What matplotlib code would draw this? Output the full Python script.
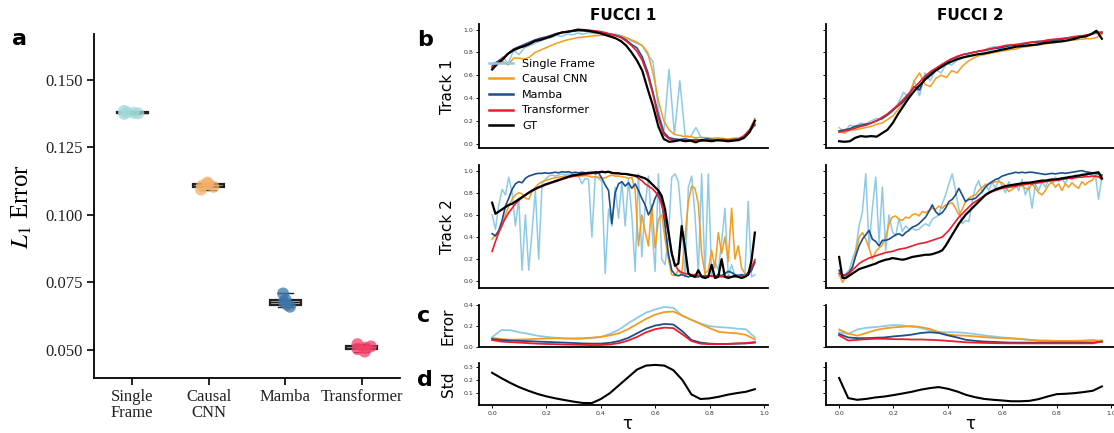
import numpy as np
import matplotlib

matplotlib.use("Agg")

import matplotlib.pyplot as plt
from matplotlib.ticker import FormatStrFormatter

# ---------------------------------------------------------------- data
METHODS = ["Single Frame", "Causal CNN", "Mamba", "Transformer", "GT"]
LINE_COLORS = ["#8ecae6", "#f39c1f", "#1b4f8a", "#ee1c2e", "black"]
LINE_WIDTHS = [1.1, 1.1, 1.2, 1.2, 1.6]

# panel a: L1 error per run
CATEGORIES = ["Single\nFrame", "Causal\nCNN", "Mamba", "Transformer"]
L1_SINGLE = [0.1385, 0.1380, 0.1376, 0.1378, 0.1374]
L1_CNN = [0.1120, 0.1115, 0.1108, 0.1104, 0.1094]
L1_MAMBA = [0.0709, 0.0686, 0.0678, 0.0668, 0.0660]
L1_TRANSFORMER = [0.0513, 0.0521, 0.0494, 0.0508, 0.0503]
DOT_COLORS = ["#a3d9d9", "#f2b06a", "#3f76a8", "#f7406a"]

# FUCCI 1 / Track 1
F1T1_SINGLE = [0.70, 0.72, 0.76, 0.70, 0.82, 0.78, 0.84, 0.86, 0.88, 0.90,
               0.92, 0.93, 0.95, 0.94, 0.96, 0.955, 0.97, 0.96, 0.975, 0.965,
               0.97, 0.97, 0.965, 0.96, 0.95, 0.93, 0.90, 0.88, 0.86, 0.78,
               0.72, 0.30, 0.10, 0.65, 0.08, 0.55, 0.07, 0.06, 0.14, 0.05,
               0.05, 0.04, 0.045, 0.04, 0.04, 0.045, 0.05, 0.06, 0.12, 0.21]
F1T1_CNN = [0.66, 0.70, 0.72, 0.69, 0.75, 0.75, 0.74, 0.76, 0.80, 0.82,
            0.84, 0.86, 0.88, 0.895, 0.91, 0.92, 0.93, 0.935, 0.94, 0.945,
            0.95, 0.95, 0.95, 0.945, 0.94, 0.93, 0.91, 0.89, 0.86, 0.80,
            0.62, 0.38, 0.20, 0.12, 0.08, 0.07, 0.06, 0.06, 0.05, 0.055,
            0.05, 0.045, 0.05, 0.045, 0.04, 0.045, 0.04, 0.06, 0.12, 0.22]
F1T1_MAMBA = [0.68, 0.72, 0.75, 0.79, 0.83, 0.85, 0.87, 0.89, 0.91, 0.925,
              0.935, 0.95, 0.965, 0.975, 0.98, 0.985, 0.99, 0.99, 0.985, 0.98,
              0.975, 0.97, 0.96, 0.95, 0.935, 0.91, 0.87, 0.84, 0.76, 0.63,
              0.45, 0.25, 0.10, 0.05, 0.04, 0.035, 0.04, 0.03, 0.035, 0.03,
              0.04, 0.035, 0.03, 0.035, 0.03, 0.035, 0.04, 0.06, 0.10, 0.17]
F1T1_TRANSFORMER = [0.67, 0.71, 0.75, 0.79, 0.82, 0.84, 0.86, 0.88, 0.90, 0.915,
                    0.93, 0.945, 0.96, 0.975, 0.985, 0.99, 1.0, 1.0, 0.995, 0.99,
                    0.985, 0.975, 0.96, 0.95, 0.93, 0.90, 0.86, 0.81, 0.73, 0.60,
                    0.43, 0.22, 0.08, 0.04, 0.03, 0.03, 0.03, 0.025, 0.03, 0.02,
                    0.03, 0.03, 0.025, 0.03, 0.03, 0.03, 0.04, 0.07, 0.12, 0.16]
F1T1_GT = [0.65, 0.70, 0.74, 0.79, 0.82, 0.84, 0.855, 0.875, 0.90, 0.91,
           0.925, 0.94, 0.96, 0.975, 0.98, 0.99, 1.0, 0.995, 0.99, 0.98,
           0.97, 0.955, 0.94, 0.925, 0.90, 0.86, 0.80, 0.73, 0.64, 0.48,
           0.33, 0.15, 0.04, 0.015, 0.02, 0.03, 0.02, 0.025, 0.01, 0.03,
           0.025, 0.02, 0.03, 0.025, 0.02, 0.025, 0.03, 0.05, 0.10, 0.20]

# FUCCI 2 / Track 1
F2T1_SINGLE = [0.14, 0.10, 0.16, 0.15, 0.18, 0.17, 0.20, 0.22, 0.21, 0.25,
               0.28, 0.35, 0.45, 0.40, 0.55, 0.42, 0.62, 0.55, 0.65, 0.62,
               0.70, 0.69, 0.73, 0.75, 0.78, 0.80, 0.81, 0.82, 0.84, 0.85,
               0.83, 0.86, 0.87, 0.86, 0.88, 0.88, 0.89, 0.90, 0.895, 0.91,
               0.905, 0.915, 0.92, 0.93, 0.925, 0.94, 0.95, 0.96, 0.975, 0.97]
F2T1_CNN = [0.11, 0.09, 0.12, 0.12, 0.13, 0.14, 0.15, 0.17, 0.18, 0.21,
            0.24, 0.30, 0.36, 0.42, 0.55, 0.62, 0.52, 0.50, 0.57, 0.60,
            0.58, 0.64, 0.62, 0.68, 0.72, 0.75, 0.77, 0.78, 0.79, 0.80,
            0.81, 0.815, 0.825, 0.83, 0.845, 0.85, 0.86, 0.865, 0.87, 0.88,
            0.885, 0.89, 0.90, 0.905, 0.91, 0.915, 0.92, 0.92, 0.93, 0.96]
F2T1_MAMBA = [0.11, 0.12, 0.13, 0.15, 0.16, 0.17, 0.18, 0.20, 0.22, 0.25,
              0.29, 0.33, 0.37, 0.43, 0.50, 0.47, 0.58, 0.62, 0.65, 0.68,
              0.71, 0.74, 0.76, 0.78, 0.79, 0.80, 0.81, 0.815, 0.825, 0.835,
              0.84, 0.85, 0.86, 0.865, 0.87, 0.88, 0.89, 0.89, 0.895, 0.90,
              0.905, 0.91, 0.92, 0.93, 0.935, 0.94, 0.95, 0.96, 0.98, 0.97]
F2T1_TRANSFORMER = [0.10, 0.11, 0.12, 0.135, 0.15, 0.16, 0.18, 0.20, 0.23, 0.26,
                    0.30, 0.34, 0.39, 0.44, 0.49, 0.54, 0.59, 0.63, 0.66, 0.69,
                    0.72, 0.745, 0.765, 0.78, 0.79, 0.80, 0.81, 0.82, 0.83, 0.84,
                    0.85, 0.86, 0.865, 0.87, 0.875, 0.885, 0.89, 0.895, 0.90, 0.91,
                    0.915, 0.92, 0.925, 0.93, 0.94, 0.945, 0.95, 0.96, 0.97, 0.98]
F2T1_GT = [0.02, 0.015, 0.02, 0.05, 0.065, 0.06, 0.065, 0.06, 0.09, 0.12,
           0.18, 0.26, 0.33, 0.40, 0.46, 0.51, 0.56, 0.60, 0.64, 0.67,
           0.70, 0.72, 0.74, 0.755, 0.765, 0.775, 0.785, 0.79, 0.80, 0.81,
           0.82, 0.83, 0.84, 0.85, 0.855, 0.86, 0.865, 0.87, 0.88, 0.885,
           0.89, 0.895, 0.90, 0.91, 0.92, 0.935, 0.94, 0.96, 0.99, 0.92]

# FUCCI 1 / Track 2
F1T2_SINGLE = [0.60, 0.47, 0.69, 0.83, 0.78, 0.94, 0.80, 0.50, 0.75, 0.10,
               0.60, 0.10, 0.45, 0.82, 0.20, 0.88, 0.92, 0.95, 0.96, 0.95,
               0.96, 0.97, 0.96, 0.97, 0.965, 0.97, 0.95, 0.88, 0.93, 0.92,
               0.40, 0.95, 0.93, 0.90, 0.07, 0.65, 0.50, 0.85, 0.57, 0.90,
               0.50, 0.92, 0.60, 0.09, 0.97, 0.22, 0.68, 0.95, 0.50, 0.09,
               0.97, 0.20, 0.15, 0.40, 0.94, 0.97, 0.90, 0.55, 0.04, 0.85,
               0.95, 0.60, 0.07, 0.97, 0.05, 0.97, 0.05, 0.18, 0.10, 0.35,
               0.66, 0.05, 0.15, 0.05, 0.06, 0.05, 0.06, 0.72, 0.04, 0.06]
F1T2_CNN = [0.38, 0.42, 0.45, 0.50, 0.60, 0.68, 0.74, 0.78, 0.80, 0.79,
            0.75, 0.74, 0.81, 0.85, 0.88, 0.90, 0.91, 0.92, 0.93, 0.935,
            0.94, 0.945, 0.95, 0.95, 0.955, 0.95, 0.955, 0.95, 0.955, 0.95,
            0.94, 0.945, 0.94, 0.93, 0.935, 0.95, 0.96, 0.95, 0.95, 0.945,
            0.94, 0.93, 0.94, 0.82, 0.32, 0.60, 0.45, 0.32, 0.69, 0.30,
            0.56, 0.60, 0.38, 0.20, 0.06, 0.05, 0.10, 0.06, 0.40, 0.72,
            0.86, 0.84, 0.70, 0.25, 0.07, 0.10, 0.28, 0.12, 0.44, 0.25,
            0.40, 0.18, 0.66, 0.20, 0.32, 0.12, 0.07, 0.06, 0.10, 0.20]
F1T2_MAMBA = [0.43, 0.41, 0.46, 0.55, 0.68, 0.75, 0.83, 0.88, 0.90, 0.89,
              0.93, 0.95, 0.96, 0.97, 0.975, 0.975, 0.98, 0.975, 0.98, 0.985,
              0.98, 0.99, 0.985, 0.99, 0.98, 0.985, 0.98, 0.985, 0.98, 0.975,
              0.985, 0.97, 0.98, 0.93, 0.87, 0.82, 0.52, 0.80, 0.88, 0.90,
              0.86, 0.89, 0.84, 0.88, 0.82, 0.75, 0.69, 0.60, 0.66, 0.75,
              0.81, 0.72, 0.50, 0.25, 0.10, 0.06, 0.05, 0.06, 0.05, 0.04,
              0.05, 0.04, 0.04, 0.05, 0.04, 0.05, 0.05, 0.04, 0.06, 0.05,
              0.07, 0.09, 0.08, 0.06, 0.05, 0.06, 0.05, 0.06, 0.10, 0.17]
F1T2_TRANSFORMER = [0.27, 0.36, 0.44, 0.51, 0.57, 0.62, 0.66, 0.70, 0.73, 0.755,
                    0.78, 0.80, 0.815, 0.83, 0.845, 0.86, 0.87, 0.88, 0.89, 0.90,
                    0.91, 0.92, 0.93, 0.94, 0.945, 0.95, 0.955, 0.96, 0.965, 0.97,
                    0.975, 0.98, 0.98, 0.985, 0.985, 0.985, 0.98, 0.98, 0.975, 0.97,
                    0.97, 0.965, 0.96, 0.95, 0.93, 0.91, 0.88, 0.86, 0.84, 0.81,
                    0.77, 0.69, 0.57, 0.44, 0.26, 0.15, 0.10, 0.08, 0.07, 0.065,
                    0.06, 0.06, 0.055, 0.05, 0.05, 0.05, 0.045, 0.045, 0.045, 0.04,
                    0.04, 0.045, 0.04, 0.04, 0.045, 0.05, 0.05, 0.08, 0.13, 0.19]
F1T2_GT = [0.71, 0.61, 0.63, 0.65, 0.67, 0.69, 0.70, 0.72, 0.74, 0.76,
           0.78, 0.80, 0.82, 0.835, 0.85, 0.86, 0.875, 0.885, 0.895, 0.905,
           0.915, 0.925, 0.935, 0.945, 0.955, 0.96, 0.965, 0.97, 0.975, 0.98,
           0.98, 0.985, 0.985, 0.99, 0.985, 0.99, 0.98, 0.975, 0.975, 0.97,
           0.97, 0.965, 0.96, 0.955, 0.95, 0.94, 0.93, 0.91, 0.88, 0.85,
           0.82, 0.77, 0.65, 0.45, 0.25, 0.14, 0.16, 0.50, 0.30, 0.07,
           0.05, 0.04, 0.10, 0.04, 0.03, 0.04, 0.15, 0.03, 0.04, 0.20,
           0.04, 0.03, 0.04, 0.05, 0.04, 0.03, 0.04, 0.06, 0.19, 0.44]

# FUCCI 2 / Track 2
F2T2_SINGLE = [0.05, 0.05, 0.07, 0.10, 0.20, 0.29, 0.50, 0.63, 0.97, 0.30,
               0.66, 0.94, 0.35, 0.85, 0.28, 0.60, 0.45, 0.41, 0.57, 0.45,
               0.50, 0.47, 0.48, 0.46, 0.47, 0.50, 0.52, 0.50, 0.56, 0.58,
               0.60, 0.70, 0.78, 0.88, 0.97, 0.82, 0.65, 0.52, 0.55, 0.54,
               0.72, 0.85, 0.91, 0.80, 0.88, 0.82, 0.90, 0.84, 0.92, 0.86,
               0.80, 0.90, 0.85, 0.88, 0.82, 0.92, 0.78, 0.86, 0.66, 0.88,
               0.82, 0.90, 0.85, 0.92, 0.88, 0.94, 0.90, 0.93, 0.88, 0.95,
               0.92, 0.96, 0.94, 0.97, 0.95, 0.97, 0.96, 0.98, 0.74, 0.95]
F2T2_CNN = [0.07, -0.01, 0.04, 0.07, 0.12, 0.26, 0.40, 0.44, 0.38, 0.30,
            0.20, 0.27, 0.30, 0.33, 0.40, 0.52, 0.58, 0.59, 0.56, 0.55,
            0.58, 0.57, 0.60, 0.61, 0.59, 0.63, 0.62, 0.64, 0.66, 0.65,
            0.68, 0.66, 0.69, 0.70, 0.71, 0.66, 0.60, 0.65, 0.72, 0.75,
            0.77, 0.78, 0.82, 0.85, 0.87, 0.88, 0.89, 0.90, 0.90, 0.89,
            0.86, 0.81, 0.83, 0.85, 0.88, 0.86, 0.84, 0.83, 0.88, 0.84,
            0.80, 0.78, 0.82, 0.87, 0.90, 0.85, 0.88, 0.82, 0.88, 0.85,
            0.89, 0.86, 0.84, 0.90, 0.87, 0.90, 0.91, 0.95, 0.94, 0.95]
F2T2_MAMBA = [0.10, 0.04, 0.06, 0.08, 0.13, 0.23, 0.32, 0.38, 0.42, 0.46,
              0.38, 0.36, 0.32, 0.37, 0.37, 0.38, 0.40, 0.42, 0.43, 0.41,
              0.44, 0.46, 0.49, 0.50, 0.52, 0.55, 0.58, 0.63, 0.69, 0.63,
              0.60, 0.62, 0.66, 0.72, 0.74, 0.78, 0.84, 0.78, 0.72, 0.74,
              0.74, 0.75, 0.78, 0.81, 0.85, 0.88, 0.90, 0.92, 0.93, 0.95,
              0.96, 0.97, 0.975, 0.985, 0.98, 0.985, 0.98, 0.985, 0.985, 0.98,
              0.975, 0.97, 0.965, 0.97, 0.975, 0.97, 0.975, 0.98, 0.975, 0.98,
              0.985, 0.99, 0.995, 1.0, 0.99, 0.985, 0.98, 0.975, 0.97, 0.96]
F2T2_TRANSFORMER = [0.07, 0.06, 0.055, 0.07, 0.10, 0.13, 0.16, 0.18, 0.195, 0.21,
                    0.22, 0.23, 0.24, 0.25, 0.26, 0.265, 0.27, 0.28, 0.29, 0.295,
                    0.30, 0.31, 0.32, 0.33, 0.34, 0.345, 0.35, 0.36, 0.37, 0.38,
                    0.39, 0.40, 0.43, 0.46, 0.50, 0.54, 0.58, 0.61, 0.64, 0.67,
                    0.70, 0.72, 0.74, 0.76, 0.78, 0.795, 0.81, 0.82, 0.83, 0.84,
                    0.845, 0.85, 0.855, 0.86, 0.865, 0.87, 0.875, 0.88, 0.88, 0.885,
                    0.89, 0.895, 0.90, 0.905, 0.91, 0.91, 0.915, 0.92, 0.925, 0.93,
                    0.93, 0.935, 0.94, 0.94, 0.945, 0.945, 0.95, 0.95, 0.945, 0.92]
F2T2_GT = [0.22, 0.03, 0.03, 0.05, 0.07, 0.09, 0.11, 0.12, 0.13, 0.14,
           0.15, 0.16, 0.175, 0.185, 0.195, 0.20, 0.21, 0.205, 0.20, 0.195,
           0.20, 0.21, 0.22, 0.225, 0.23, 0.235, 0.24, 0.24, 0.245, 0.255,
           0.265, 0.28, 0.32, 0.37, 0.42, 0.47, 0.52, 0.56, 0.60, 0.63,
           0.66, 0.69, 0.72, 0.75, 0.78, 0.80, 0.815, 0.83, 0.84, 0.85,
           0.86, 0.865, 0.87, 0.875, 0.88, 0.885, 0.89, 0.89, 0.895, 0.90,
           0.905, 0.91, 0.91, 0.915, 0.92, 0.92, 0.925, 0.93, 0.935, 0.94,
           0.945, 0.95, 0.955, 0.96, 0.965, 0.97, 0.975, 0.98, 0.985, 0.93]

# error vs tau (30 bins) and std across methods
F1_ERR_SINGLE = [0.093, 0.16, 0.16, 0.14, 0.125, 0.107, 0.095, 0.087, 0.08, 0.077,
                 0.078, 0.082, 0.095, 0.125, 0.165, 0.225, 0.28, 0.33, 0.36, 0.385,
                 0.375, 0.30, 0.26, 0.225, 0.20, 0.19, 0.185, 0.175, 0.17, 0.09]
F1_ERR_CNN = [0.085, 0.075, 0.068, 0.07, 0.073, 0.077, 0.08, 0.082, 0.08, 0.08,
              0.082, 0.088, 0.095, 0.11, 0.13, 0.17, 0.22, 0.27, 0.31, 0.335,
              0.34, 0.30, 0.26, 0.22, 0.18, 0.145, 0.135, 0.13, 0.115, 0.07]
F1_ERR_MAMBA = [0.075, 0.065, 0.06, 0.057, 0.054, 0.05, 0.047, 0.043, 0.04, 0.036,
                0.032, 0.03, 0.03, 0.038, 0.055, 0.085, 0.13, 0.175, 0.205, 0.22,
                0.215, 0.15, 0.065, 0.04, 0.03, 0.027, 0.027, 0.03, 0.032, 0.04]
F1_ERR_TRANSFORMER = [0.065, 0.05, 0.045, 0.04, 0.035, 0.03, 0.027, 0.025, 0.022, 0.02,
                      0.018, 0.016, 0.017, 0.022, 0.035, 0.06, 0.095, 0.14, 0.17, 0.185,
                      0.18, 0.12, 0.055, 0.03, 0.025, 0.025, 0.028, 0.032, 0.036, 0.045]
F1_STD = [0.255, 0.215, 0.178, 0.145, 0.118, 0.094, 0.075, 0.06, 0.047, 0.035,
          0.025, 0.024, 0.055, 0.10, 0.16, 0.22, 0.28, 0.31, 0.315, 0.31,
          0.275, 0.20, 0.09, 0.055, 0.06, 0.072, 0.088, 0.10, 0.11, 0.13]

F2_ERR_SINGLE = [0.14, 0.123, 0.167, 0.183, 0.19, 0.20, 0.21, 0.207, 0.193, 0.183,
                 0.157, 0.143, 0.14, 0.14, 0.133, 0.123, 0.11, 0.10, 0.09, 0.083,
                 0.077, 0.067, 0.06, 0.057, 0.053, 0.053, 0.057, 0.06, 0.067, 0.05]
F2_ERR_CNN = [0.167, 0.127, 0.107, 0.133, 0.16, 0.177, 0.187, 0.193, 0.20, 0.19,
              0.173, 0.14, 0.117, 0.11, 0.107, 0.10, 0.093, 0.087, 0.083, 0.08,
              0.073, 0.067, 0.06, 0.06, 0.057, 0.057, 0.057, 0.057, 0.06, 0.06]
F2_ERR_MAMBA = [0.123, 0.09, 0.083, 0.083, 0.087, 0.09, 0.10, 0.107, 0.117, 0.133,
                0.14, 0.133, 0.11, 0.09, 0.067, 0.057, 0.05, 0.047, 0.043, 0.04,
                0.04, 0.04, 0.04, 0.04, 0.04, 0.04, 0.04, 0.04, 0.04, 0.05]
F2_ERR_TRANSFORMER = [0.11, 0.06, 0.067, 0.073, 0.077, 0.077, 0.073, 0.073, 0.07, 0.07,
                      0.067, 0.063, 0.057, 0.05, 0.043, 0.04, 0.037, 0.035, 0.034, 0.033,
                      0.033, 0.033, 0.033, 0.033, 0.033, 0.033, 0.033, 0.033, 0.033, 0.05]
F2_STD = [0.215, 0.062, 0.049, 0.056, 0.067, 0.074, 0.085, 0.097, 0.11, 0.126,
          0.138, 0.146, 0.133, 0.113, 0.087, 0.069, 0.056, 0.049, 0.044, 0.038,
          0.038, 0.041, 0.054, 0.074, 0.092, 0.095, 0.10, 0.108, 0.118, 0.151]

COLUMNS = ["FUCCI 1", "FUCCI 2"]
TRACKS = [
    [[F1T1_SINGLE, F1T1_CNN, F1T1_MAMBA, F1T1_TRANSFORMER, F1T1_GT],
     [F2T1_SINGLE, F2T1_CNN, F2T1_MAMBA, F2T1_TRANSFORMER, F2T1_GT]],
    [[F1T2_SINGLE, F1T2_CNN, F1T2_MAMBA, F1T2_TRANSFORMER, F1T2_GT],
     [F2T2_SINGLE, F2T2_CNN, F2T2_MAMBA, F2T2_TRANSFORMER, F2T2_GT]],
]
ERRORS = [[F1_ERR_SINGLE, F1_ERR_CNN, F1_ERR_MAMBA, F1_ERR_TRANSFORMER],
          [F2_ERR_SINGLE, F2_ERR_CNN, F2_ERR_MAMBA, F2_ERR_TRANSFORMER]]
STDS = [F1_STD, F2_STD]
N_BINS = 30

# ---------------------------------------------------------------- layout
W, H = 1114, 433
fig = plt.figure(figsize=(W / 100, H / 100), dpi=100)


def add_px(left, top, right, bottom, **kw):
    """Axes placed in pixel coordinates (origin top-left)."""
    return fig.add_axes([left / W, 1 - bottom / H, (right - left) / W, (bottom - top) / H], **kw)


# ---------------------------------------------------------------- panel a
serif = ["Liberation Serif", "DejaVu Serif"]
plt.rcParams["mathtext.fontset"] = "stix"

ax_a = add_px(94, 34, 400, 378)
l1_groups = [L1_SINGLE, L1_CNN, L1_MAMBA, L1_TRANSFORMER]
ax_a.boxplot(l1_groups, positions=range(len(l1_groups)), widths=0.4,
             patch_artist=True, showfliers=False,
             boxprops=dict(facecolor="#c8c8c8", edgecolor="#222222", linewidth=1.6),
             medianprops=dict(color="#222222", linewidth=1),
             whiskerprops=dict(color="#222222", linewidth=1.0),
             capprops=dict(color="#222222", linewidth=1.0), zorder=2)
rng = np.random.default_rng(3)  # horizontal jitter only
for k, vals in enumerate(l1_groups):
    xs = k + rng.uniform(-0.13, 0.13, len(vals))
    ax_a.scatter(xs, vals, s=75, color=DOT_COLORS[k], alpha=0.75,
                 edgecolors="none", zorder=3)

ax_a.set_xlim(-0.5, 3.5)
ax_a.set_ylim(0.0396, 0.167)
ax_a.set_yticks([0.050, 0.075, 0.100, 0.125, 0.150])
ax_a.yaxis.set_major_formatter(FormatStrFormatter("%.3f"))
ax_a.set_xticks(range(len(CATEGORIES)))
ax_a.set_xticklabels(CATEGORIES, linespacing=0.95)
for lab in ax_a.get_xticklabels() + ax_a.get_yticklabels():
    lab.set_family(serif)
    lab.set_fontsize(12)
    lab.set_color("#222222")
ax_a.tick_params(length=5, width=1.2, pad=3)
for s in ("top", "right"):
    ax_a.spines[s].set_visible(False)
for s in ("left", "bottom"):
    ax_a.spines[s].set_linewidth(1.3)
fig.text(22 / W, 1 - 207 / H, "$L_1$ Error", rotation=90, ha="center", va="center",
         fontsize=18, family=serif)

# ---------------------------------------------------------------- panels b-d
ROWS_PX = [(24, 148), (165, 288), (305, 347), (363, 405)]
COLS_PX = [(479, 768), (826, 1115)]

grid = []
for r, (top, bottom) in enumerate(ROWS_PX):
    row = []
    for c, (left, right) in enumerate(COLS_PX):
        share = row[0] if c == 1 else None
        row.append(add_px(left, top, right, bottom, sharey=share))
    grid.append(row)

for c in range(2):
    # tracks
    for r in range(2):
        ax = grid[r][c]
        for series, name, color, lw in zip(TRACKS[r][c], METHODS, LINE_COLORS, LINE_WIDTHS):
            ax.plot(np.arange(len(series)), series, color=color, lw=lw, label=name)
        ax.set_yticks([0.0, 0.2, 0.4, 0.6, 0.8, 1.0])
    # error per tau bin
    tau = np.arange(N_BINS) / N_BINS
    ax = grid[2][c]
    for series, color in zip(ERRORS[c], LINE_COLORS[:4]):
        ax.plot(tau, series, color=color, lw=1.3)
    ax.set_yticks([0.0, 0.2, 0.4])
    # std across methods
    ax = grid[3][c]
    ax.plot(tau, STDS[c], color="black", lw=1.5)
    ax.set_yticks([0.1, 0.2, 0.3])
    ax.set_xticks([0.0, 0.2, 0.4, 0.6, 0.8, 1.0])
    grid[2][c].set_xlim(grid[3][c].get_xlim())

for r, row in enumerate(grid):
    for c, ax in enumerate(row):
        for s in ("top", "right"):
            ax.spines[s].set_visible(False)
        for s in ("left", "bottom"):
            ax.spines[s].set_linewidth(1.3)
        ax.tick_params(labelsize=4.5, length=2.5, width=0.7, pad=1.5, labelcolor="#333333")
        if r < 3:
            ax.tick_params(axis="x", bottom=False, labelbottom=False)
        if c == 1:
            ax.tick_params(axis="y", labelleft=False)

leg = grid[0][0].legend(loc="upper left", bbox_to_anchor=(0.0, 0.80), frameon=False,
                        fontsize=8, handlelength=2.2, handletextpad=0.8)
for line in leg.get_lines():
    line.set_linewidth(1.8)

# column titles, row labels, tau labels
for c, (cx, tx) in enumerate([(623, 627), (970, 970)]):
    fig.text(cx / W, 1 - 15 / H, COLUMNS[c], ha="center", va="center",
             fontsize=11, fontweight="bold")
    fig.text(tx / W, 1 - 424 / H, "τ", ha="center", va="center", fontsize=12)

for label, yc in zip(["Track 1", "Track 2", "Error", "Std"], [87, 227, 326, 384]):
    fig.text(448 / W, 1 - yc / H, label, rotation=90, ha="center", va="center", fontsize=11)

for letter, x, y in [("a", 12, 45), ("b", 417, 46), ("c", 417, 322), ("d", 417, 386)]:
    fig.text(x / W, 1 - y / H, letter, ha="left", va="baseline",
             fontsize=16, fontweight="bold")

fig.savefig("out.png", dpi=100)
